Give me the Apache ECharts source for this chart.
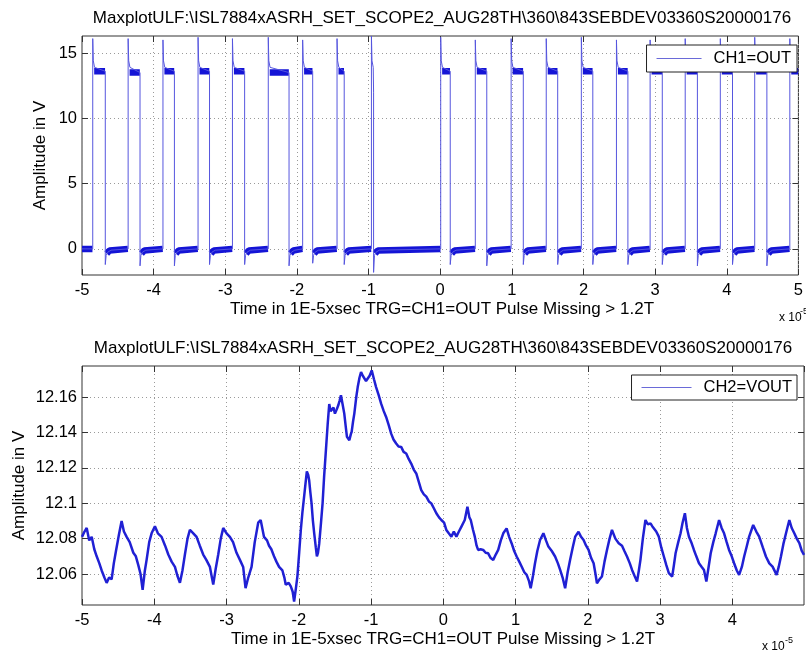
<!DOCTYPE html>
<html><head><meta charset="utf-8">
<script src="https://cdn.jsdelivr.net/npm/echarts@6/dist/echarts.min.js"></script>
<style>html,body{margin:0;padding:0;background:#fff}#c{width:806px;height:653px}</style>
</head><body><div id="c"></div>
<script>
// ---------- texts ----------
const titleText = 'MaxplotULF:\\ISL7884xASRH_SET_SCOPE2_AUG28TH\\360\\843SEBDEV03360S20000176';
const xAxisName = 'Time in 1E-5xsec TRG=CH1=OUT Pulse Missing > 1.2T';
const yAxisName = 'Amplitude in V';
const ch1Name = 'CH1=OUT';
const ch2Name = 'CH2=VOUT';

// ---------- tick values ----------
const x1Ticks = [-5,-4,-3,-2,-1,0,1,2,3,4,5];
const x2Ticks = [-5,-4,-3,-2,-1,0,1,2,3,4];
const y1Ticks = [0,5,10,15];
const y2Ticks = [12.06,12.08,12.1,12.12,12.14,12.16];
const y1Range = [-2, 16.3];
const y2Range = [12.0425, 12.1775];
const x1Range = [-5, 5];
const x2Range = [-5, 4.99];

// ---------- CH1 (pulse train) ----------
const ch1Rise  = [-4.85,-4.356,-3.87,-3.38,-2.90,-2.40,-1.92,-1.44,-0.96, 0.007,0.49,0.99,1.48,1.97,2.46,2.93,3.42,3.91,4.39,4.88];
const ch1Fall  = [-4.675,-4.19,-3.71,-3.22,-2.73,-2.11,-1.78,-1.34,-0.93, 0.14,0.65,1.16,1.64,2.13,2.62,3.10,3.59,4.08,4.56, 5.0];
const ch1Spike = [16.1,16.1,16.0,16.2,16.1,16.2,16.0,16.1,16.3, 16.2,16.0,16.1,16.1,16.2,16.0,16.0,16.1,16.1,16.2,16.1];
const ch1High  = [13.6,13.5,13.6,13.6,13.6,13.5,13.6,13.6,12.0, 13.6,13.6,13.6,13.6,13.6,13.6,13.6,13.6,13.6,13.6,13.6];
const ch1Under = [-1.2,-1.3,-1.3,-1.2,-1.2,-1.3,-1.1,-1.2,-1.8, -1.2,-1.3,-1.2,-1.2,-1.2,-1.2,-1.2,-1.3,-1.2,-1.3, -1.2];
const ch1Low = 0.0;
// shape after the rising spike and after the falling undershoot (offsets in x, values in V)
const ch1SpikeDx = [0.008, 0.025];
const ch1SpikeY  = [14.4, 13.9];
const ch1HookDx  = [0.012, 0.035, 0.08];
const ch1HookY   = [-0.5, -0.25, -0.1];
const ch1BandDx  = [0.02, 0.06];
const ch1BandY   = [-0.35, -0.12];

// ---------- CH2 (VOUT) samples ----------
const ch2Samples = [
[-5.000,12.081],[-4.965,12.084],[-4.935,12.086],[-4.900,12.079],[-4.866,12.081],[-4.830,12.074],[-4.797,12.070],[-4.760,12.066],[-4.728,12.062],[-4.690,12.058],
[-4.659,12.055],[-4.625,12.058],[-4.590,12.057],[-4.560,12.066],[-4.530,12.073],[-4.490,12.082],[-4.452,12.090],[-4.420,12.084],[-4.382,12.081],[-4.340,12.078],
[-4.290,12.072],[-4.255,12.070],[-4.221,12.065],[-4.190,12.060],[-4.161,12.051],[-4.130,12.062],[-4.106,12.068],[-4.070,12.078],[-4.037,12.083],[-3.991,12.087],
[-3.950,12.083],[-3.899,12.081],[-3.850,12.076],[-3.806,12.071],[-3.760,12.067],[-3.714,12.064],[-3.680,12.059],[-3.645,12.055],[-3.610,12.062],[-3.576,12.071],
[-3.540,12.080],[-3.507,12.085],[-3.460,12.083],[-3.415,12.081],[-3.370,12.076],[-3.323,12.071],[-3.280,12.068],[-3.230,12.064],[-3.184,12.054],[-3.150,12.063],
[-3.115,12.071],[-3.080,12.080],[-3.046,12.086],[-3.000,12.083],[-2.954,12.081],[-2.910,12.078],[-2.862,12.072],[-2.815,12.068],[-2.770,12.064],[-2.737,12.052],
[-2.700,12.058],[-2.654,12.064],[-2.610,12.078],[-2.562,12.089],[-2.528,12.0905],[-2.482,12.081],[-2.440,12.079],[-2.412,12.076],[-2.380,12.074],[-2.343,12.070],
[-2.310,12.067],[-2.273,12.064],[-2.227,12.062],[-2.200,12.058],[-2.181,12.054],[-2.140,12.055],[-2.111,12.053],[-2.085,12.050],[-2.065,12.0445],[-2.040,12.052],
[-2.019,12.059],[-1.995,12.072],[-1.972,12.085],[-1.950,12.095],[-1.926,12.104],[-1.905,12.112],[-1.889,12.118],[-1.870,12.116],[-1.857,12.113],[-1.840,12.106],
[-1.824,12.100],[-1.805,12.090],[-1.787,12.083],[-1.765,12.075],[-1.750,12.070],[-1.735,12.072],[-1.718,12.077],[-1.695,12.088],[-1.671,12.100],[-1.650,12.115],
[-1.625,12.130],[-1.600,12.145],[-1.579,12.156],[-1.560,12.152],[-1.546,12.1515],[-1.520,12.154],[-1.500,12.1506],[-1.475,12.153],[-1.454,12.1553],[-1.435,12.158],
[-1.417,12.161],[-1.395,12.156],[-1.371,12.1506],[-1.350,12.143],[-1.334,12.1375],[-1.301,12.1356],[-1.280,12.139],[-1.269,12.1403],[-1.250,12.146],[-1.232,12.1506],
[-1.205,12.160],[-1.185,12.1656],[-1.160,12.171],[-1.139,12.1741],[-1.115,12.172],[-1.093,12.1713],[-1.070,12.169],[-1.047,12.1694],[-1.020,12.172],[-0.991,12.175],
[-0.960,12.170],[-0.931,12.1656],[-0.895,12.161],[-0.861,12.1562],[-0.825,12.152],[-0.792,12.1487],[-0.755,12.144],[-0.722,12.1393],[-0.690,12.136],[-0.653,12.1337],
[-0.620,12.132],[-0.584,12.1318],[-0.550,12.129],[-0.514,12.1281],[-0.480,12.125],[-0.445,12.1224],[-0.410,12.119],[-0.375,12.1168],[-0.340,12.112],[-0.306,12.1074],
[-0.270,12.105],[-0.236,12.1037],[-0.200,12.101],[-0.167,12.0999],[-0.130,12.097],[-0.097,12.0943],[-0.060,12.092],[-0.028,12.0905],[0.010,12.089],[0.041,12.0849],
[0.075,12.083],[0.111,12.0811],[0.145,12.084],[0.180,12.0811],[0.215,12.084],[0.250,12.0868],[0.296,12.0905],[0.333,12.098],[0.360,12.092],[0.379,12.0905],
[0.410,12.085],[0.435,12.0811],[0.460,12.076],[0.481,12.0736],[0.515,12.074],[0.551,12.0736],[0.585,12.072],[0.620,12.0717],[0.655,12.069],[0.690,12.068],
[0.725,12.071],[0.759,12.0736],[0.795,12.079],[0.829,12.083],[0.875,12.0858],[0.910,12.081],[0.944,12.0774],[0.980,12.073],[1.014,12.0699],[1.050,12.067],
[1.083,12.0642],[1.120,12.061],[1.153,12.0595],[1.185,12.056],[1.208,12.052],[1.240,12.059],[1.268,12.0661],[1.300,12.073],[1.338,12.0792],[1.384,12.083],
[1.420,12.079],[1.453,12.0755],[1.500,12.073],[1.546,12.0699],[1.585,12.066],[1.616,12.0623],[1.650,12.058],[1.685,12.052],[1.720,12.061],[1.754,12.068],
[1.790,12.075],[1.824,12.0811],[1.870,12.0839],[1.905,12.081],[1.940,12.0792],[1.975,12.076],[2.009,12.0736],[2.045,12.069],[2.079,12.0661],[2.105,12.060],
[2.125,12.0548],[2.160,12.057],[2.194,12.0586],[2.230,12.067],[2.264,12.0736],[2.300,12.080],[2.333,12.0849],[2.380,12.080],[2.426,12.0774],[2.472,12.076],
[2.505,12.073],[2.541,12.0699],[2.580,12.066],[2.611,12.0623],[2.645,12.059],[2.680,12.0558],[2.705,12.062],[2.727,12.068],[2.760,12.080],[2.796,12.0905],
[2.830,12.088],[2.866,12.0886],[2.890,12.087],[2.912,12.0868],[2.945,12.084],[2.981,12.0811],[3.015,12.075],[3.051,12.0699],[3.085,12.065],[3.120,12.0605],
[3.166,12.0586],[3.190,12.065],[3.213,12.0717],[3.250,12.078],[3.282,12.083],[3.310,12.089],[3.342,12.0943],[3.370,12.086],[3.398,12.0811],[3.430,12.078],
[3.467,12.0736],[3.500,12.070],[3.537,12.0661],[3.575,12.064],[3.606,12.0623],[3.639,12.0558],[3.670,12.064],[3.699,12.0717],[3.735,12.078],[3.768,12.083],
[3.815,12.0905],[3.850,12.086],[3.884,12.083],[3.920,12.078],[3.953,12.0736],[3.990,12.070],[4.023,12.0661],[4.060,12.062],[4.092,12.0595],[4.130,12.064],
[4.162,12.0699],[4.200,12.076],[4.231,12.0811],[4.287,12.0877],[4.330,12.084],[4.370,12.0811],[4.420,12.075],[4.463,12.0699],[4.510,12.066],[4.555,12.0642],
[4.611,12.0595],[4.640,12.064],[4.671,12.0699],[4.705,12.077],[4.741,12.083],[4.787,12.0905],[4.820,12.086],[4.856,12.083],[4.890,12.080],[4.926,12.0774],
[4.960,12.073],[4.990,12.0708]
];

// ---------- build CH1 polylines from the read edges ----------
const ch1Line = [[x1Range[0], ch1Low]];
const ch1Band = [[x1Range[0], ch1Low]];
for (let i = 0; i < ch1Rise.length; i++) {
  const r = ch1Rise[i], f = ch1Fall[i];
  ch1Line.push([r, ch1Low], [r, ch1Spike[i]]);
  for (let k = 0; k < ch1SpikeDx.length; k++) ch1Line.push([r + ch1SpikeDx[k], ch1SpikeY[k]]);
  ch1Band.push([r - 0.004, ch1Low], null);
  if (f - r > 0.05) ch1Band.push([r + 0.02, ch1High[i]], [Math.min(f, x1Range[1]) - 0.003, ch1High[i]], null);
  if (f < x1Range[1]) {
    ch1Line.push([f, ch1High[i]], [f, ch1Under[i]]);
    for (let k = 0; k < ch1HookDx.length; k++) ch1Line.push([f + ch1HookDx[k], ch1HookY[k]]);
    for (let k = 0; k < ch1BandDx.length; k++) ch1Band.push([f + ch1BandDx[k], ch1BandY[k]]);
  } else {
    ch1Line.push([x1Range[1], ch1High[i]]);
  }
}

const FONT = '"Liberation Sans", Arial, Helvetica, sans-serif';
const FS = 16.5;
const FT = 17;
const gridLine = {show: true, lineStyle: {color: '#9a9a9a', type: [1, 3], width: 1}};
const tickStyle = {show: true, inside: true, length: 6, lineStyle: {color: '#333'}};
const noLine = {show: false, onZero: false};

function xAxes(gridIndex, range, ticks, showMax) {
  return [
    {type: 'value', gridIndex, position: 'bottom', min: range[0], max: range[1], interval: 1,
     axisLine: noLine, axisTick: tickStyle, splitLine: gridLine,
     axisLabel: {color: '#000', fontSize: FS, fontFamily: FONT, margin: 7, showMaxLabel: showMax,
       formatter: v => (ticks.indexOf(v) >= 0 ? String(v) : '')}},
    {type: 'value', gridIndex, position: 'top', min: range[0], max: range[1], interval: 1,
     axisLine: noLine, axisTick: tickStyle, splitLine: {show: false}, axisLabel: {show: false}}
  ];
}
function yAxes(gridIndex, range, ticks) {
  return [
    {type: 'value', gridIndex, position: 'left', min: range[0], max: range[1],
     axisLine: noLine,
     axisTick: Object.assign({}, tickStyle, {customValues: ticks}),
     splitLine: gridLine,
     axisLabel: {color: '#000', fontSize: FS, fontFamily: FONT, margin: 5, customValues: ticks}},
    {type: 'value', gridIndex, position: 'right', min: range[0], max: range[1],
     axisLine: noLine,
     axisTick: Object.assign({}, tickStyle, {customValues: ticks}),
     splitLine: {show: false}, axisLabel: {show: false}}
  ];
}

function legendCfg(name, top, pad, iw) {
  return {data: [name], right: 9, top, orient: 'horizontal', backgroundColor: '#fff',
    borderColor: '#222', borderWidth: 1, borderRadius: 0, padding: pad,
    icon: 'rect', itemWidth: iw, itemHeight: 1,
    itemStyle: {color: '#6a6ad8'},
    textStyle: {color: '#000', fontSize: FS, fontFamily: FONT, padding: [0, 0, 0, 7]}};
}

function txt(text, x, y, size, opts) {
  return Object.assign({type: 'text', x, y, silent: true,
    style: {text, fill: '#000', font: size + 'px ' + FONT, align: 'center', verticalAlign: 'middle'}}, opts || {});
}

const chart = echarts.init(document.getElementById('c'), null, {renderer: 'canvas'});
chart.setOption({
  animation: false,
  backgroundColor: '#fff',
  grid: [
    {left: 82, top: 36, width: 720, height: 239, show: true, borderColor: '#333', borderWidth: 1, backgroundColor: '#fff'},
    {left: 82, top: 366, width: 722, height: 239, show: true, borderColor: '#333', borderWidth: 1, backgroundColor: '#fff'}
  ],
  xAxis: [].concat(xAxes(0, x1Range, x1Ticks, true), xAxes(1, x2Range, x2Ticks, false)),
  yAxis: [].concat(yAxes(0, y1Range, y1Ticks), yAxes(1, y2Range, y2Ticks)),
  legend: [legendCfg(ch1Name, 45, [5, 6, 5, 10], 45), legendCfg(ch2Name, 375, [4, 5, 4, 10], 50)],
  series: [
    {name: 'CH1 band', type: 'line', xAxisIndex: 0, yAxisIndex: 0, data: ch1Band, showSymbol: false,
     connectNulls: false, lineStyle: {color: '#1414d6', width: 6.5}, itemStyle: {color: '#1414d6'}, z: 2},
    {name: ch1Name, type: 'line', xAxisIndex: 0, yAxisIndex: 0, data: ch1Line, showSymbol: false,
     lineStyle: {color: '#5656de', width: 1}, itemStyle: {color: '#5656de'}, z: 3},
    {name: ch2Name, type: 'line', xAxisIndex: 2, yAxisIndex: 2, data: ch2Samples, showSymbol: false,
     lineStyle: {color: '#2020d4', width: 2.5}, itemStyle: {color: '#2020d4'}, z: 3}
  ],
  graphic: [
    txt(titleText, 442, 18.5, FT),
    txt(titleText, 443, 348.5, FT),
    txt(xAxisName, 442, 309, FT),
    txt(xAxisName, 443, 639, FT),
    txt(yAxisName, 40, 155.5, FT, {rotation: Math.PI / 2}),
    txt(yAxisName, 19, 485.5, FT, {rotation: Math.PI / 2}),
    txt('x 10', 779, 318, 12, {style: {text: 'x 10', fill: '#000', font: '12px ' + FONT, align: 'left', verticalAlign: 'middle'}}),
    txt('-5', 800, 312, 9, {style: {text: '-5', fill: '#000', font: '9px ' + FONT, align: 'left', verticalAlign: 'middle'}}),
    txt('x 10', 762, 647, 12, {style: {text: 'x 10', fill: '#000', font: '12px ' + FONT, align: 'left', verticalAlign: 'middle'}}),
    txt('-5', 785, 641, 9, {style: {text: '-5', fill: '#000', font: '9px ' + FONT, align: 'left', verticalAlign: 'middle'}})
  ]
});
</script></body></html>
